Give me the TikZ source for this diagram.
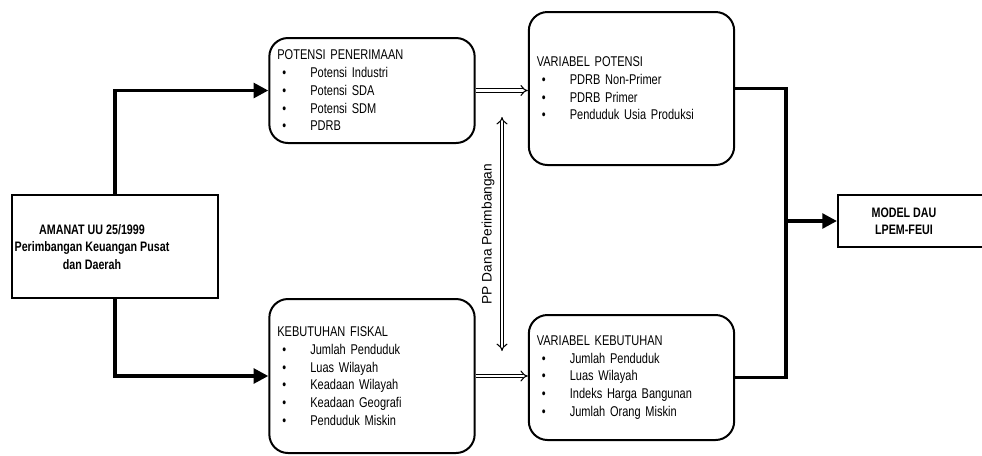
\documentclass[tikz,border=0pt]{standalone}
\usepackage{fontspec}
\setmainfont[FakeStretch=0.78]{Liberation Sans}
\newfontfamily\lblfont{Liberation Sans}
\usetikzlibrary{arrows.meta,positioning}
\newcommand{\itm}[1]{\\\hspace*{3.75pt}\makebox[21pt][l]{\textbullet}#1}

\begin{document}
\begin{tikzpicture}[x=0.75pt,y=-0.75pt,
    box/.style={draw,line width=1.5pt,rounded corners=14pt,inner xsep=6pt,
        text width=142pt,align=left,font=\fontsize{10.6}{13.3}\selectfont},
    sqbox/.style={draw,line width=1.5pt},
    bold txt/.style={align=center,font=\bfseries\fontsize{10.3}{13}\selectfont},
    thick line/.style={line width=2.6pt},
    conn/.style={thick line,-{Triangle[length=11pt,width=11pt]}},
    hollow/.style={draw,double,double distance=2pt,line width=0.8pt,-{Implies}}]
    \clip (0,0) rectangle (982,455);
    \node[sqbox,minimum width=154.5pt,minimum height=77.25pt] (amanat) at (115,246.5) {};
    \node[bold txt] (amanat_txt) at (92,247) {AMANAT UU 25/1999\\Perimbangan Keuangan Pusat\\dan Daerah};
    \node[box,minimum height=78.75pt] (pot_pen) at (372,90.5)
        {POTENSI PENERIMAAN\itm{Potensi Industri}\itm{Potensi SDA}\itm{Potensi SDM}\itm{PDRB}};
    \node[box,minimum height=115.5pt] (keb_fis) at (372,376)
        {KEBUTUHAN FISKAL\itm{Jumlah Penduduk}\itm{Luas Wilayah}\itm{Keadaan Wilayah}\itm{Keadaan Geografi}\itm{Penduduk Miskin}};
    \node[box,minimum height=114.75pt] (var_pot) at (631.5,88.5)
        {VARIABEL POTENSI\itm{PDRB Non-Primer}\itm{PDRB Primer}\itm{Penduduk Usia Produksi}};
    \node[box,minimum height=93.75pt] (var_keb) at (631.5,377.5)
        {VARIABEL KEBUTUHAN\itm{Jumlah Penduduk}\itm{Luas Wilayah}\itm{Indeks Harga Bangunan}\itm{Jumlah Orang Miskin}};
    \node[sqbox,minimum width=121.5pt,minimum height=39pt] (model) at (919,221) {};
    \node[bold txt] (model_txt) at (904,221) {MODEL DAU\\LPEM-FEUI};
    \node[rotate=90,font=\lblfont\fontsize{10.3}{12}\selectfont] (pp_lbl) at (488,234) {PP Dana Perimbangan};
    \coordinate (pp_top) at (502,117);
    \coordinate (pp_bot) at (502,351);
    \coordinate (jn) at (786,221);

    \draw[conn] (amanat.north) |- (pot_pen.west);
    \draw[conn] (amanat.south) |- (keb_fis.west);
    \draw[thick line] (var_pot.east) -| (jn) |- (var_keb.east);
    \draw[conn] (jn) -- (model.west);
    \draw[hollow] (pot_pen.east) -- (pot_pen.east -| var_pot.west);
    \draw[hollow] (keb_fis.east) -- (keb_fis.east -| var_keb.west);
    \draw[hollow,{Implies}-{Implies}] (pp_top) -- (pp_bot);
\end{tikzpicture}
\end{document}
